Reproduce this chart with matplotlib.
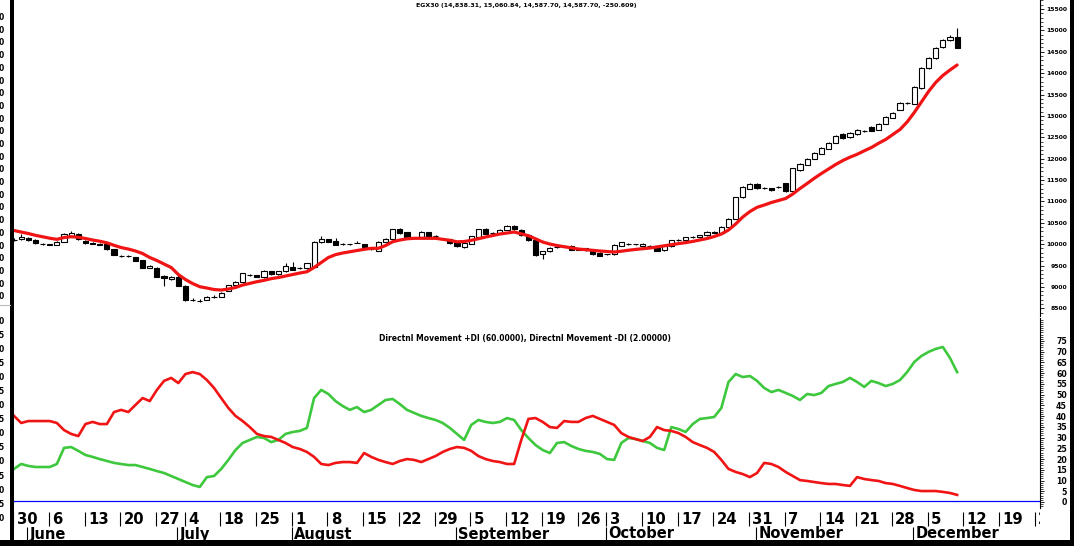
import matplotlib
matplotlib.use("Agg")
import matplotlib.pyplot as plt
from matplotlib.patches import Rectangle
from matplotlib.ticker import MultipleLocator, FixedLocator
import numpy as np

# ---------------- data ----------------
opens = [10100, 10113, 10140, 10097, 10010, 9990, 9980, 10050, 10180, 10240,
         10080, 10020, 10010, 9995, 9880, 9725, 9725, 9700, 9630, 9450,
         9450, 9260, 9180, 9240, 9030, 8700, 8680, 8700, 8770, 8770,
         8910, 9045, 9120, 9280, 9280, 9225, 9370, 9300, 9370, 9460,
         9450, 9435, 9475, 10045, 10120, 10080, 10005, 10000, 10035, 9995,
         9890, 9850, 10060, 10115, 10350, 10280, 10155, 10160, 10285, 10190,
         10120, 10115, 10045, 9925, 10005, 10175, 10350, 10250, 10260, 10330,
         10420, 10340, 10220, 10100, 9760, 9830, 9930, 9950, 9960, 9880,
         9860, 9870, 9800, 9770, 9760, 9960, 10010, 10000, 9960, 9960,
         9950, 9860, 9950, 10090, 10090, 10160, 10160, 10210, 10290, 10270,
         10410, 10600, 11100, 11300, 11400, 11310, 11310, 11330, 11420, 11250,
         11740, 11860, 12000, 12120, 12230, 12370, 12580, 12500, 12580, 12650,
         12740, 12670, 12810, 12950, 13140, 13300, 13280, 13650, 14120, 14355,
         14610, 14775, 14838.31]
highs = [10140, 10230, 10160, 10110, 10030, 10010, 10070, 10260, 10300, 10260,
         10090, 10040, 10030, 10000, 9885, 9740, 9745, 9710, 9640, 9505,
         9460, 9270, 9250, 9280, 9040, 8730, 8710, 8790, 8800, 8880,
         9050, 9135, 9330, 9300, 9290, 9385, 9380, 9380, 9555, 9575,
         9470, 9560, 10070, 10190, 10130, 10150, 10020, 10015, 10070, 10005,
         9905, 10070, 10145, 10360, 10380, 10290, 10170, 10300, 10295, 10210,
         10140, 10125, 10055, 10045, 10200, 10360, 10370, 10290, 10345, 10440,
         10450, 10360, 10230, 10110, 9850, 9935, 9950, 9965, 9970, 9895,
         9920, 9880, 9810, 9780, 10010, 10060, 10030, 10010, 10020, 9975,
         9960, 9960, 10100, 10110, 10175, 10180, 10220, 10300, 10310, 10420,
         10620, 11110, 11350, 11420, 11420, 11330, 11320, 11360, 11430, 11790,
         11890, 12020, 12160, 12280, 12390, 12550, 12600, 12620, 12690, 12680,
         12760, 12830, 12990, 13090, 13320, 13330, 13690, 14140, 14370, 14610,
         14790, 14880, 15060.84]
lows = [10070, 10100, 10080, 10010, 9990, 9975, 9970, 10040, 10170, 10100,
        10010, 10000, 9975, 9870, 9740, 9700, 9705, 9600, 9440, 9440,
        9230, 9020, 9170, 9020, 8680, 8670, 8650, 8690, 8750, 8760,
        8900, 9035, 9100, 9260, 9230, 9215, 9290, 9290, 9360, 9390,
        9430, 9425, 9465, 10035, 10050, 9970, 9985, 9990, 10020, 9915,
        9875, 9840, 10050, 10105, 10245, 10150, 10140, 10150, 10165, 10170,
        10100, 10010, 9945, 9915, 9995, 10165, 10230, 10230, 10250, 10320,
        10330, 10200, 10080, 9720, 9650, 9820, 9910, 9935, 9860, 9860,
        9850, 9750, 9720, 9750, 9750, 9950, 9990, 9980, 9950, 9940,
        9840, 9850, 9940, 10070, 10080, 10150, 10150, 10200, 10250, 10260,
        10400, 10590, 11080, 11290, 11300, 11290, 11250, 11310, 11230, 11230,
        11720, 11850, 11990, 12110, 12220, 12360, 12470, 12490, 12560, 12630,
        12640, 12660, 12800, 12940, 13130, 13280, 13270, 13640, 14100, 14340,
        14590, 14760, 14587.70]
closes = [10095, 10160, 10090, 10020, 10005, 9995, 10055, 10245, 10260, 10120,
          10020, 10015, 9990, 9880, 9745, 9720, 9730, 9610, 9450, 9495,
          9240, 9200, 9240, 9030, 8700, 8695, 8675, 8770, 8775, 8865,
          9035, 9120, 9320, 9275, 9240, 9370, 9300, 9370, 9490, 9395,
          9445, 9550, 10060, 10130, 10060, 9980, 10000, 10005, 10030, 9925,
          9885, 10060, 10115, 10350, 10255, 10160, 10150, 10290, 10175, 10185,
          10115, 10020, 9955, 10035, 10190, 10350, 10240, 10260, 10330, 10420,
          10350, 10210, 10090, 9750, 9830, 9920, 9935, 9945, 9870, 9875,
          9905, 9760, 9730, 9765, 9990, 10040, 10005, 9995, 10000, 9955,
          9850, 9950, 10090, 10095, 10160, 10165, 10210, 10280, 10260, 10410,
          10600, 11100, 11330, 11400, 11310, 11305, 11260, 11335, 11240, 11780,
          11880, 12000, 12140, 12260, 12370, 12530, 12480, 12600, 12670, 12655,
          12650, 12810, 12970, 13070, 13300, 13310, 13675, 14120, 14355, 14590,
          14775, 14845, 14587.70]
ma = [10319, 10284, 10249, 10207, 10172, 10139, 10113, 10155, 10174, 10162,
      10132, 10097, 10069, 10031, 9973, 9921, 9886, 9840, 9781, 9688,
      9617, 9536, 9454, 9290, 9173, 9079, 9005, 8974, 8939, 8927,
      8951, 8986, 9044, 9084, 9122, 9154, 9194, 9220, 9255, 9290,
      9325, 9355, 9454, 9571, 9688, 9755, 9793, 9823, 9851, 9879,
      9903, 9903, 9968, 10057, 10097, 10125, 10137, 10137, 10137, 10137,
      10113, 10090, 10055, 10062, 10090, 10127, 10167, 10202, 10237, 10261,
      10284, 10242, 10197, 10125, 10050, 10003, 9968, 9940, 9914, 9886,
      9872, 9856, 9840, 9828, 9816, 9835, 9858, 9877, 9893, 9910,
      9935, 9961, 9987, 10013, 10036, 10064, 10097, 10132, 10179, 10237,
      10331, 10471, 10635, 10763, 10862, 10915, 10974, 11021, 11068, 11173,
      11301, 11418, 11540, 11652, 11758, 11863, 11956, 12034, 12101, 12183,
      12260, 12359, 12448, 12565, 12681, 12857, 13079, 13325, 13570, 13781,
      13945, 14073, 14190]
plus_di = [15.4, 17.7, 16.8, 16.3, 16.3, 16.3, 17.7, 25.2, 25.6, 23.8,
           21.9, 21.0, 20.0, 19.1, 18.2, 17.7, 17.2, 17.2, 16.3, 15.4,
           14.4, 13.5, 12.1, 10.7, 9.3, 7.9, 7.0, 11.6, 12.1, 15.4,
           19.6, 24.2, 27.5, 28.9, 30.3, 29.8, 27.9, 28.9, 31.7, 32.6,
           33.1, 34.5, 48.4, 52.2, 50.3, 47.0, 44.7, 42.9, 44.2, 41.9,
           42.9, 45.2, 47.5, 48.0, 45.6, 42.9, 41.5, 40.1, 39.1, 38.2,
           36.8, 34.5, 31.7, 28.9, 35.9, 38.2, 37.3, 36.8, 37.3, 39.1,
           38.2, 33.5, 29.8, 26.5, 24.2, 22.8, 27.5, 27.9, 26.1, 24.7,
           23.8, 23.3, 22.4, 20.0, 19.6, 27.5, 29.8, 29.3, 28.4, 27.5,
           25.2, 24.2, 34.9, 34.0, 32.6, 36.3, 38.7, 39.1, 39.6, 43.8,
           55.9, 59.6, 58.2, 58.7, 56.4, 53.1, 51.2, 52.2, 50.8, 49.4,
           47.5, 50.3, 49.8, 50.8, 54.0, 55.0, 55.9, 57.8, 55.9, 53.6,
           56.4, 55.4, 54.0, 55.0, 56.8, 60.5, 65.2, 68.0, 69.9, 71.3,
           72.2, 67.1, 60.5]
minus_di = [40.1, 36.8, 37.7, 37.7, 37.7, 37.7, 36.8, 33.5, 31.7, 30.7,
            36.3, 37.3, 36.3, 36.3, 41.9, 42.9, 41.9, 45.2, 48.4, 47.0,
            52.2, 56.4, 57.8, 55.4, 59.6, 60.5, 59.6, 56.8, 53.1, 48.4,
            43.8, 40.1, 37.7, 34.9, 31.7, 30.7, 30.3, 28.9, 27.5, 25.6,
            24.7, 23.3, 21.0, 17.7, 17.2, 18.2, 18.6, 18.6, 18.2, 22.8,
            21.0, 19.6, 18.6, 17.7, 19.1, 20.0, 19.6, 18.6, 20.0, 21.4,
            23.3, 24.7, 25.6, 25.2, 23.8, 21.4, 20.0, 19.1, 18.6, 17.7,
            17.7, 28.9, 38.7, 39.1, 37.3, 34.9, 34.5, 37.7, 37.3, 37.3,
            39.1, 40.1, 38.7, 37.3, 35.9, 32.1, 30.3, 29.3, 28.4, 30.3,
            34.9, 33.5, 33.1, 32.1, 30.3, 27.9, 26.5, 25.2, 23.3, 19.6,
            15.4, 14.0, 13.0, 11.6, 13.5, 18.2, 17.7, 16.3, 14.0, 12.1,
            10.2, 9.8, 9.3, 8.8, 8.4, 8.4, 7.9, 7.5, 11.6, 10.7,
            10.2, 9.8, 8.8, 8.4, 7.5, 6.5, 5.6, 5.1, 5.1, 5.1,
            4.7, 4.2, 3.3]

day_tick_idx = [0, 5, 10, 15, 20, 24, 29, 34, 39, 44, 49, 54, 59, 64, 69,
                74, 79, 83, 88, 93, 98, 103, 108, 113, 118, 123, 128, 133, 138, 143]
day_labels = ['30', '6', '13', '20', '27', '4', '18', '25', '1', '8', '15', '22', '29',
              '5', '12', '19', '26', '3', '10', '17', '24', '31', '7', '14', '21', '28',
              '5', '12', '19', '26']
month_idx = [2, 23, 39, 62, 83, 104, 126]
month_labels = ['June', 'July', 'August', 'September', 'October', 'November', 'December']

price_ticks = list(range(8500, 15501, 500))
di_ticks = list(range(0, 76, 5))

title_top = "EGX30 (14,838.31, 15,060.84, 14,587.70, 14,587.70, -250.609)"
title_bottom = "Directnl Movement +DI (60.0000), Directnl Movement -DI (2.00000)"

# ---------------- layout ----------------
W, H = 1074, 546
fig = plt.figure(figsize=(W / 100, H / 100), dpi=100)
fig.patch.set_facecolor('white')


def rect(x0, y0, x1, y1):
    return [x0 / W, 1 - y1 / H, (x1 - x0) / W, (y1 - y0) / H]


XL = (-0.07, 143.53)
ax1 = fig.add_axes(rect(13.5, 0, 1039.5, 316))
ax2 = fig.add_axes(rect(13.5, 318, 1039.5, 508))
ax3 = fig.add_axes(rect(13.5, 510, 1039.5, 540))

RED = '#f01414'
GREEN = '#3ec83e'
FONT = 'DejaVu Sans'

# candles
idx = np.arange(len(closes))
body_w = 0.72
for i in idx:
    o, h, l, c = opens[i], highs[i], lows[i], closes[i]
    ax1.vlines(i, l, h, color='black', lw=0.8, zorder=2)
    up = c >= o
    ax1.add_patch(Rectangle((i - body_w / 2, min(o, c)), body_w, abs(c - o),
                            facecolor='white' if up else 'black',
                            edgecolor='black', lw=0.8, zorder=3))
ax1.plot(idx, ma, color=RED, lw=2.3, zorder=4, solid_capstyle='round')
ax1.set_ylim(8320, 15710)

# DI panel
ax2.plot(idx, plus_di, color=GREEN, lw=1.9, zorder=3)
ax2.plot(idx, minus_di, color=RED, lw=1.9, zorder=3)
ax2.axhline(0.5, color='#0000ff', lw=0.9, zorder=2)
ax2.set_ylim(-2.8, 85.7)

for ax, maj, minor, fs in ((ax1, price_ticks, 100, 4.4), (ax2, di_ticks, 1, 5.6)):
    ax.set_xlim(*XL)
    ax.set_facecolor('white')
    for s in ('top', 'left', 'bottom'):
        ax.spines[s].set_visible(False)
    ax.spines['right'].set_linewidth(0.8)
    ax.yaxis.tick_right()
    ax.tick_params(axis='x', which='both', bottom=False, labelbottom=False)
    ax.yaxis.set_major_locator(FixedLocator(maj))
    ax.yaxis.set_minor_locator(MultipleLocator(minor))
    ax.tick_params(axis='y', which='major', length=3, width=0.6, pad=16.8,
                   labelsize=fs, direction='out')
    ax.tick_params(axis='y', which='minor', length=1.8, width=0.5, direction='out')
    ax.set_yticklabels([str(v) for v in maj])
    for lab in ax.get_yticklabels():
        lab.set_horizontalalignment('right')
        lab.set_fontweight('bold')
        lab.set_fontfamily(FONT)

# date axis
ax3.set_xlim(*XL)
ax3.set_ylim(0, 1)
ax3.axis('off')
ax3.vlines([t - 0.13 for t in day_tick_idx], 0.467, 0.933, color='black', lw=0.8)
ax3.vlines([m - 0.13 for m in month_idx], 0.0, 0.433, color='black', lw=0.8)
for t, lab in zip(day_tick_idx, day_labels):
    ax3.text(t + 0.35, 0.667, lab, ha='left', va='center', fontsize=10.7,
             fontweight='bold', family=FONT, clip_on=True)
for m, lab in zip(month_idx, month_labels):
    ax3.text(m + 0.2, 0.2, lab, ha='left', va='center', fontsize=10.5,
             fontweight='bold', family=FONT, clip_on=True)

# titles
fig.text(526 / W, 1 - 5.5 / H, title_top, ha='center', va='center', fontsize=4.5,
         fontweight='bold', family=FONT)
fig.text(525 / W, 1 - 338 / H, title_bottom, ha='center', va='center', fontsize=5.5,
         fontweight='bold', family=FONT)

# cut-off labels of a neighbouring axis at the far left
for j in range(23):
    fig.text(4 / W, 1 - (17.5 + 12.7 * j) / H, '0', ha='right', va='center',
             fontsize=5.5, fontweight='bold', family=FONT)
for j in range(15):
    fig.text(4 / W, 1 - (321 + 14.1 * j) / H, '0' if j % 2 == 0 else '5', ha='right',
             va='center', fontsize=5.5, fontweight='bold', family=FONT)
fig.add_artist(plt.Line2D([0, 10 / W], [1 - 305 / H, 1 - 305 / H], color='#bbbbbb',
                          lw=0.8, transform=fig.transFigure))

# black frame bars
fig.add_artist(Rectangle((10 / W, 0), 3.5 / W, 1, transform=fig.transFigure,
                         facecolor='black', edgecolor='none'))
fig.add_artist(Rectangle((1070 / W, 0), 4 / W, 1, transform=fig.transFigure,
                         facecolor='black', edgecolor='none'))
fig.add_artist(Rectangle((0, 0), 1, 6.5 / H, transform=fig.transFigure,
                         facecolor='black', edgecolor='none'))

fig.savefig('out.png', dpi=100, facecolor='white')
